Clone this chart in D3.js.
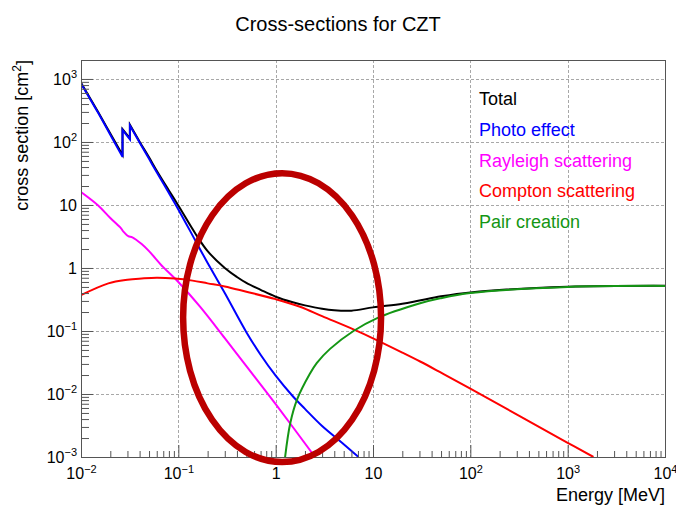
<!DOCTYPE html>
<html lang="en">
<head>
<meta charset="UTF-8">
<title>Cross-sections for CZT</title>
<style>
    body {
        margin: 0;
        padding: 0;
        background-color: #fff;
    }

    svg {
        display: block;
        font-family: "Liberation Sans", Arial, Helvetica, sans-serif;
    }

    .grid line {
        stroke: #a8a8a8;
        stroke-width: 1;
        stroke-dasharray: 3, 2;
    }

    .axis line,
    .axis path {
        stroke: #555;
    }

    .axis text {
        font-size: 16px;
        fill: #000;
    }

    .curve {
        fill: none;
        stroke-width: 2;
    }
</style>
</head>
<body>
<div id="chart"></div>
<script src="https://cdn.jsdelivr.net/npm/d3@7"></script>
<script>
    // values: [energy in MeV, cross section in cm2]
    const total = [
        [0.01, 870], [0.015, 298], [0.02, 136], [0.0267, 62], [0.0267, 160],
        [0.0318, 114], [0.0318, 187], [0.04, 101], [0.05, 57], [0.06, 35],
        [0.08, 17], [0.1, 9.8], [0.15, 3.5], [0.2, 1.85], [0.3, 1.0],
        [0.4, 0.72], [0.5, 0.58], [0.7, 0.45], [1, 0.35], [1.5, 0.285],
        [2, 0.255], [3, 0.225], [4, 0.213], [6, 0.21], [10, 0.237],
        [20, 0.27], [30, 0.305], [50, 0.355], [100, 0.41], [1000, 0.505],
        [10000, 0.524]
    ];
    const photo = [
        [0.01, 850], [0.015, 290], [0.02, 130], [0.0267, 58], [0.0267, 155],
        [0.0318, 110], [0.0318, 183], [0.04, 98], [0.05, 54], [0.06, 33],
        [0.08, 15.5], [0.1, 8.5], [0.15, 2.7], [0.2, 1.2], [0.3, 0.4],
        [0.5, 0.0957], [0.7, 0.042], [1, 0.0195], [1.5, 0.0092], [2, 0.0058],
        [3, 0.0031], [5, 0.0016], [7.1, 0.001]
    ];
    const rayleigh = [
        [0.01, 16], [0.015, 9.8], [0.02, 6.2], [0.0258, 4.26], [0.0268, 3.9],
        [0.0279, 3.64], [0.0306, 3.2], [0.0337, 3.07], [0.042, 2.4], [0.05, 1.85],
        [0.07, 1.03], [0.1, 0.6], [0.167, 0.243], [0.3, 0.077], [0.5, 0.0277],
        [1, 0.0069], [2.54, 0.001]
    ];
    const compton = [
        [0.01, 0.37], [0.0191, 0.57], [0.03, 0.65], [0.042, 0.68], [0.06, 0.7],
        [0.092, 0.68], [0.14, 0.63], [0.2, 0.57], [0.3, 0.51], [0.5, 0.42],
        [1, 0.32], [1.78, 0.243], [3, 0.172], [6.3, 0.106], [10, 0.0766],
        [20, 0.0455], [30.5, 0.0328], [49, 0.0222], [100, 0.0122], [1000, 0.00168],
        [1841, 0.001]
    ];
    const pair = [
        [1.25, 0.001], [1.41, 0.0034], [1.65, 0.008], [2.26, 0.0213], [2.64, 0.031],
        [3.62, 0.052], [6.3, 0.1], [10.9, 0.159], [30.5, 0.275], [49, 0.33],
        [100, 0.4], [1000, 0.5], [10000, 0.52]
    ];

    const seriesNames = ["Total", "Photo effect", "Rayleigh scattering", "Compton scattering", "Pair creation"];
    const seriesColors = ["#000000", "#0000ff", "#ff00ff", "#ff0000", "#149614"];
    const seriesData = [total, photo, rayleigh, compton, pair];

    const xTicks = [1e-2, 1e-1, 1, 10, 100, 1e3, 1e4];
    const yTicks = [1e-3, 1e-2, 1e-1, 1, 10, 100, 1e3];

    // hand-drawn highlight ellipse, bounds in data units
    const highlight = { eMin: 0.112, eMax: 12.1, sMin: 0.00083, sMax: 32 };

    const w = 676;
    const h = 509;
    const frame = { left: 81, right: 665, top: 60, bottom: 457 };

    const svg = d3.select("#chart")
        .append("svg")
        .attr("width", w)
        .attr("height", h);

    const x = d3.scaleLog().domain([1e-2, 1e4]).range([frame.left, frame.right]);
    const y = d3.scaleLog().domain([1e-3, 2000]).range([frame.bottom, frame.top]);

    // grid at decades
    const grid = svg.append("g").attr("class", "grid");
    grid.selectAll(".gx")
        .data(xTicks.slice(1, -1))
        .enter()
        .append("line")
        .attr("x1", d => Math.round(x(d)) + 0.5)
        .attr("x2", d => Math.round(x(d)) + 0.5)
        .attr("y1", frame.top)
        .attr("y2", frame.bottom);
    grid.selectAll(".gy")
        .data(yTicks.slice(1))
        .enter()
        .append("line")
        .attr("y1", d => Math.round(y(d)) + 0.5)
        .attr("y2", d => Math.round(y(d)) + 0.5)
        .attr("x1", frame.left)
        .attr("x2", frame.right);

    // curves
    svg.append("clipPath")
        .attr("id", "clip")
        .append("rect")
        .attr("x", frame.left)
        .attr("y", frame.top)
        .attr("width", frame.right - frame.left)
        .attr("height", frame.bottom - frame.top);

    const line = d3.line()
        .x(d => x(d[0]))
        .y(d => y(d[1]))
        .curve(d3.curveCatmullRom.alpha(0.5));

    // absorption edges are repeated energies: draw them as vertical jumps
    function edgePath(data) {
        const parts = [];
        let start = 0;
        for (let i = 1; i < data.length; i++) {
            if (data[i][0] === data[i - 1][0]) {
                parts.push(data.slice(start, i));
                start = i;
            }
        }
        parts.push(data.slice(start));
        return parts.map((p, i) => {
            const s = line(p);
            return i ? "L" + s.slice(1) : s;
        }).join("");
    }

    svg.append("g")
        .attr("clip-path", "url(#clip)")
        .selectAll("path")
        .data(seriesData)
        .enter()
        .append("path")
        .attr("class", "curve")
        .attr("stroke", (d, i) => seriesColors[i])
        .attr("d", d => edgePath(d));

    // axes, ticks inside the frame
    function decadeLabel(sel) {
        sel.selectAll(".tick text").each(function (d) {
            const e = Math.round(Math.log10(d));
            const t = d3.select(this).text("");
            if (e === 0) {
                t.text("1");
            } else if (e === 1) {
                t.text("10");
            } else {
                t.append("tspan").text("10");
                t.append("tspan")
                    .attr("dy", "-0.6em")
                    .attr("font-size", "11px")
                    .text(e < 0 ? "\u2212" + (-e) : e);
            }
        });
    }

    const yMinor = y.ticks().filter(d => !yTicks.some(t => Math.abs(t - d) / t < 1e-6));
    const xMinor = x.ticks().filter(d => !xTicks.some(t => Math.abs(t - d) / t < 1e-6));

    svg.append("g")
        .attr("class", "axis")
        .attr("transform", `translate(${frame.left},0)`)
        .call(d3.axisLeft(y).tickValues(yMinor).tickSize(-8).tickSizeOuter(0).tickFormat(""))
        .call(g => g.select(".domain").remove());
    svg.append("g")
        .attr("class", "axis")
        .attr("transform", `translate(${frame.left},0)`)
        .call(d3.axisLeft(y).tickValues(yTicks).tickSize(-12).tickPadding(4).tickSizeOuter(0))
        .call(g => g.select(".domain").remove())
        .call(decadeLabel);

    svg.append("g")
        .attr("class", "axis")
        .attr("transform", `translate(0,${frame.bottom})`)
        .call(d3.axisBottom(x).tickValues(xMinor).tickSize(-6).tickSizeOuter(0).tickFormat(""))
        .call(g => g.select(".domain").remove());
    svg.append("g")
        .attr("class", "axis")
        .attr("transform", `translate(0,${frame.bottom})`)
        .call(d3.axisBottom(x).tickValues(xTicks).tickSize(-12).tickPadding(11).tickSizeOuter(0))
        .call(g => g.select(".domain").remove())
        .call(decadeLabel);

    // frame
    svg.append("rect")
        .attr("x", frame.left + 0.5)
        .attr("y", frame.top + 0.5)
        .attr("width", frame.right - frame.left)
        .attr("height", frame.bottom - frame.top)
        .attr("fill", "none")
        .attr("stroke", "#555");

    // highlight ellipse
    svg.append("ellipse")
        .attr("cx", (x(highlight.eMin) + x(highlight.eMax)) / 2)
        .attr("cy", (y(highlight.sMin) + y(highlight.sMax)) / 2)
        .attr("rx", (x(highlight.eMax) - x(highlight.eMin)) / 2)
        .attr("ry", (y(highlight.sMin) - y(highlight.sMax)) / 2)
        .attr("fill", "none")
        .attr("stroke", "#bb0000")
        .attr("stroke-width", 6.5);

    // legend
    svg.append("g")
        .selectAll("text")
        .data(seriesNames)
        .enter()
        .append("text")
        .attr("x", 479)
        .attr("y", (d, i) => 105 + i * 30.8)
        .attr("fill", (d, i) => seriesColors[i])
        .style("font-size", "18px")
        .text(d => d);

    // titles
    svg.append("text")
        .attr("x", w / 2)
        .attr("y", 31)
        .attr("text-anchor", "middle")
        .style("font-size", "20px")
        .text("Cross-sections for CZT");

    svg.append("text")
        .attr("x", frame.right)
        .attr("y", 501)
        .attr("text-anchor", "end")
        .style("font-size", "18px")
        .text("Energy [MeV]");

    const yTitle = svg.append("text")
        .attr("transform", `translate(28,${frame.top}) rotate(-90)`)
        .attr("text-anchor", "end")
        .style("font-size", "18px");
    yTitle.append("tspan").text("cross section [cm");
    yTitle.append("tspan").attr("dy", "-0.55em").style("font-size", "12px").text("2");
    yTitle.append("tspan").attr("dy", "0.4em").text("]");
</script>
</body>
</html>
